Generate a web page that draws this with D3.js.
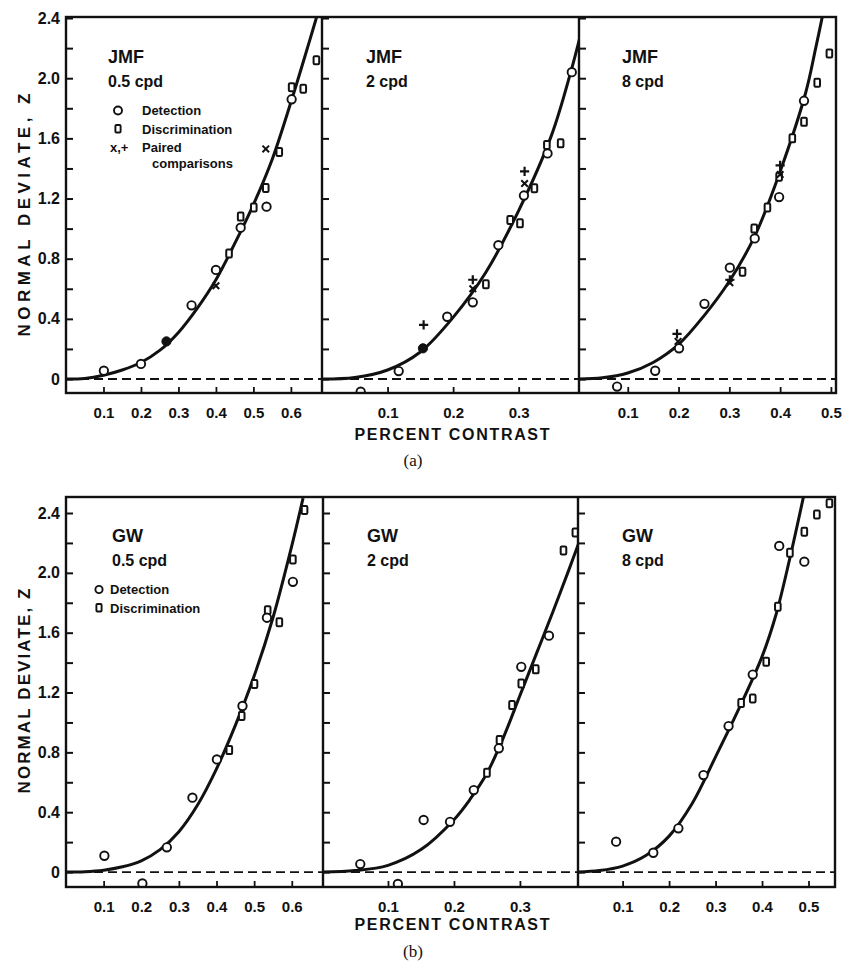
<!DOCTYPE html>
<html>
<head>
<meta charset="utf-8">
<script src="https://cdn.jsdelivr.net/npm/d3@7"></script>
<style>
  body { margin: 0; background: #fff; }
  text { font-family: "Liberation Sans", Arial, sans-serif; font-weight: bold; fill: #111; }
  .caption { font-family: "Liberation Serif", "Times New Roman", serif; font-weight: normal; }
</style>
</head>
<body>
<svg id="fig" width="846" height="968"></svg>
<script>
// ---- data: [contrast, z] ----
// (a) JMF 0.5 cpd
var a1Detection = [[0.101, 0.055], [0.20, 0.10], [0.335, 0.49], [0.40, 0.725], [0.466, 1.006], [0.535, 1.146], [0.602, 1.86]];
var a1Filled = [[0.268, 0.25]];
var a1Discrimination = [[0.435, 0.835], [0.466, 1.08], [0.501, 1.14], [0.533, 1.27], [0.569, 1.51], [0.602, 1.94], [0.633, 1.93], [0.668, 2.12]];
var a1Cross = [[0.40, 0.62], [0.533, 1.53]];
var a1Plus = [];
var a1Curve = [[0, 0], [0.05, 0.004], [0.1, 0.025], [0.15, 0.06], [0.2, 0.11], [0.25, 0.19], [0.3, 0.31], [0.35, 0.47], [0.4, 0.66], [0.45, 0.9], [0.5, 1.16], [0.55, 1.46], [0.6, 1.84], [0.65, 2.25], [0.675, 2.46]];

// (a) JMF 2 cpd
var a2Detection = [[0.059, -0.084], [0.117, 0.053], [0.191, 0.414], [0.230, 0.51], [0.269, 0.89], [0.308, 1.22], [0.344, 1.50], [0.381, 2.04]];
var a2Filled = [[0.154, 0.204]];
var a2Discrimination = [[0.250, 0.63], [0.287, 1.057], [0.302, 1.035], [0.324, 1.268], [0.343, 1.556], [0.364, 1.567]];
var a2Cross = [[0.230, 0.60], [0.309, 1.30]];
var a2Plus = [[0.155, 0.36], [0.230, 0.66], [0.309, 1.38]];
var a2Curve = [[0, 0], [0.05, 0.01], [0.1, 0.06], [0.15, 0.18], [0.2, 0.41], [0.25, 0.71], [0.3, 1.12], [0.35, 1.62], [0.38, 2.05], [0.395, 2.3]];

// (a) JMF 8 cpd
var a3Detection = [[0.079, -0.05], [0.154, 0.055], [0.201, 0.204], [0.251, 0.50], [0.301, 0.74], [0.350, 0.935], [0.398, 1.21], [0.447, 1.85]];
var a3Filled = [];
var a3Discrimination = [[0.326, 0.713], [0.349, 1.00], [0.375, 1.14], [0.398, 1.345], [0.424, 1.60], [0.447, 1.71], [0.473, 1.97], [0.497, 2.165]];
var a3Cross = [[0.199, 0.25], [0.301, 0.64], [0.40, 1.36]];
var a3Plus = [[0.197, 0.30], [0.301, 0.66], [0.40, 1.42]];
var a3Curve = [[0, 0], [0.05, 0.008], [0.1, 0.04], [0.15, 0.11], [0.2, 0.23], [0.25, 0.42], [0.3, 0.65], [0.35, 0.95], [0.4, 1.38], [0.45, 1.9], [0.47, 2.2], [0.485, 2.44]];

// (b) GW 0.5 cpd
var b1Detection = [[0.102, 0.109], [0.203, -0.076], [0.268, 0.165], [0.336, 0.497], [0.401, 0.753], [0.469, 1.11], [0.534, 1.70], [0.603, 1.94]];
var b1Discrimination = [[0.434, 0.815], [0.467, 1.043], [0.501, 1.257], [0.536, 1.75], [0.567, 1.67], [0.603, 2.09], [0.634, 2.42]];
var b1Curve = [[0, 0], [0.05, 0.002], [0.1, 0.012], [0.15, 0.035], [0.2, 0.075], [0.25, 0.15], [0.3, 0.27], [0.35, 0.45], [0.4, 0.69], [0.45, 0.98], [0.5, 1.31], [0.55, 1.7], [0.6, 2.18], [0.63, 2.5]];

// (b) GW 2 cpd
var b2Detection = [[0.058, 0.053], [0.115, -0.08], [0.154, 0.348], [0.194, 0.336], [0.23, 0.548], [0.268, 0.827], [0.302, 1.372], [0.344, 1.58]];
var b2Discrimination = [[0.25, 0.664], [0.269, 0.882], [0.288, 1.116], [0.302, 1.261], [0.324, 1.355], [0.366, 2.15], [0.384, 2.27]];
var b2Curve = [[0, 0], [0.05, 0.01], [0.1, 0.045], [0.15, 0.15], [0.2, 0.35], [0.225, 0.49], [0.25, 0.66], [0.275, 0.9], [0.3, 1.18], [0.325, 1.46], [0.35, 1.74], [0.375, 2.03], [0.39, 2.21]];

// (b) GW 8 cpd
var b3Detection = [[0.086, 0.203], [0.166, 0.129], [0.22, 0.292], [0.274, 0.648], [0.328, 0.976], [0.38, 1.32], [0.437, 2.18], [0.491, 2.075]];
var b3Discrimination = [[0.355, 1.13], [0.38, 1.16], [0.409, 1.406], [0.434, 1.773], [0.46, 2.134], [0.491, 2.275], [0.518, 2.39], [0.545, 2.465]];
var b3Curve = [[0, 0], [0.05, 0.01], [0.1, 0.04], [0.15, 0.11], [0.2, 0.24], [0.25, 0.46], [0.3, 0.77], [0.35, 1.09], [0.4, 1.44], [0.43, 1.72], [0.46, 2.1], [0.49, 2.52]];

// ticks
var yTicks = [0, 0.2, 0.4, 0.6, 0.8, 1.0, 1.2, 1.4, 1.6, 1.8, 2.0, 2.2, 2.4];
var yTickLabels = [0, 0.4, 0.8, 1.2, 1.6, 2.0, 2.4];
var xTicks05 = [0.1, 0.2, 0.3, 0.4, 0.5, 0.6];
var xTicks2 = [0.1, 0.2, 0.3];
var xTicks8 = [0.1, 0.2, 0.3, 0.4, 0.5];

var svg = d3.select("#fig");
svg.append("rect").attr("width", 846).attr("height", 968).attr("fill", "#fff");

var line = d3.line().curve(d3.curveCatmullRom.alpha(0.5));

function drawFigure(fig) {
  var g = svg.append("g");
  var y = d3.scaleLinear().domain(fig.yDomain).range([fig.bottom, fig.top]);

  fig.panels.forEach(function (p, i) {
    var x = d3.scaleLinear().domain(p.xDomain).range([p.left, p.right]);
    var pg = g.append("g");
    var clipId = "clip-" + fig.id + i;

    pg.append("clipPath").attr("id", clipId).append("rect")
      .attr("x", p.left).attr("y", fig.top)
      .attr("width", p.right - p.left).attr("height", fig.bottom - fig.top);

    // zero line
    pg.append("line")
      .attr("x1", p.left).attr("x2", p.right)
      .attr("y1", y(0)).attr("y2", y(0))
      .attr("stroke", "#111").attr("stroke-width", 1.8)
      .attr("stroke-dasharray", "9,5");

    // left ticks (inward)
    var yAxis = d3.axisLeft(y).tickValues(yTicks).tickSize(-7).tickFormat("");
    var ya = pg.append("g").attr("transform", "translate(" + p.left + ",0)").call(yAxis);
    ya.select(".domain").remove();
    ya.selectAll("line").attr("stroke", "#111").attr("stroke-width", 2);

    if (i === 0) {
      var yLab = d3.axisLeft(y).tickValues(yTickLabels).tickSize(0).tickPadding(6)
        .tickFormat(function (d) { return d === 0 ? "0" : d.toFixed(1); });
      var yl = pg.append("g").attr("transform", "translate(" + p.left + ",0)").call(yLab);
      yl.select(".domain").remove();
      yl.selectAll("text").attr("font-size", 16).attr("font-family", null).attr("fill", "#111");
    }

    // bottom ticks (inward)
    var xAxis = d3.axisBottom(x).tickValues(p.xTicks).tickSize(-6).tickPadding(14)
      .tickFormat(function (d) { return d.toFixed(1); });
    var xa = pg.append("g").attr("transform", "translate(0," + fig.bottom + ")").call(xAxis);
    xa.select(".domain").remove();
    xa.selectAll("line").attr("stroke", "#111").attr("stroke-width", 1.8);
    xa.selectAll("text").attr("font-size", 15).attr("font-family", null).attr("fill", "#111");

    // fitted curve
    pg.append("path")
      .attr("clip-path", "url(#" + clipId + ")")
      .attr("d", line(p.curve.map(function (d) { return [x(d[0]), y(d[1])]; })))
      .attr("fill", "none").attr("stroke", "#111").attr("stroke-width", 3);

    var mk = pg.append("g").attr("stroke", "#111").attr("clip-path", "url(#" + clipId + ")");

    mk.selectAll("rect.disc").data(p.disc).enter().append("rect")
      .attr("class", "disc")
      .attr("x", function (d) { return x(d[0]) - 2.8; })
      .attr("y", function (d) { return y(d[1]) - 4; })
      .attr("width", 5.6).attr("height", 8).attr("rx", 1.2)
      .attr("fill", "#fff").attr("stroke-width", 2);

    mk.selectAll("circle.det").data(p.det).enter().append("circle")
      .attr("class", "det")
      .attr("cx", function (d) { return x(d[0]); })
      .attr("cy", function (d) { return y(d[1]); })
      .attr("r", 4.2).attr("fill", "#fff").attr("stroke-width", 1.9);

    mk.selectAll("circle.fill").data(p.filled || []).enter().append("circle")
      .attr("class", "fill")
      .attr("cx", function (d) { return x(d[0]); })
      .attr("cy", function (d) { return y(d[1]); })
      .attr("r", 4.6).attr("fill", "#111").attr("stroke-width", 1);

    mk.selectAll("path.cross").data(p.cross || []).enter().append("path")
      .attr("class", "cross")
      .attr("d", function (d) {
        var cx = x(d[0]), cy = y(d[1]), s = 3.3;
        return "M" + (cx - s) + "," + (cy - s) + "L" + (cx + s) + "," + (cy + s) +
               "M" + (cx - s) + "," + (cy + s) + "L" + (cx + s) + "," + (cy - s);
      })
      .attr("fill", "none").attr("stroke-width", 2);

    mk.selectAll("path.plus").data(p.plus || []).enter().append("path")
      .attr("class", "plus")
      .attr("d", function (d) {
        var cx = x(d[0]), cy = y(d[1]), s = 4.6;
        return "M" + (cx - s) + "," + cy + "L" + (cx + s) + "," + cy +
               "M" + cx + "," + (cy - s) + "L" + cx + "," + (cy + s);
      })
      .attr("fill", "none").attr("stroke-width", 2.2);

    // panel titles
    pg.append("text").attr("x", p.titleX).attr("y", fig.titleY)
      .attr("font-size", 18).text(fig.subject);
    pg.append("text").attr("x", p.titleX).attr("y", fig.titleY + 24)
      .attr("font-size", 16).text(p.freq);
  });

  // frame
  g.append("rect")
    .attr("x", fig.panels[0].left).attr("y", fig.top)
    .attr("width", fig.panels[2].right - fig.panels[0].left)
    .attr("height", fig.bottom - fig.top)
    .attr("fill", "none").attr("stroke", "#111").attr("stroke-width", 2.4);
  [1, 2].forEach(function (i) {
    g.append("line")
      .attr("x1", fig.panels[i].left).attr("x2", fig.panels[i].left)
      .attr("y1", fig.top).attr("y2", fig.bottom)
      .attr("stroke", "#111").attr("stroke-width", 2.4);
  });

  // axis titles
  g.append("text")
    .attr("transform", "translate(30," + fig.yTitleY + ") rotate(-90)")
    .attr("text-anchor", "middle").attr("font-size", 17)
    .attr("textLength", fig.yTitleLen).attr("lengthAdjust", "spacing")
    .text("NORMAL DEVIATE, Z");
  g.append("text")
    .attr("x", 452).attr("y", fig.xTitleY)
    .attr("text-anchor", "middle").attr("font-size", 16)
    .attr("textLength", 195).attr("lengthAdjust", "spacing")
    .text("PERCENT CONTRAST");
  g.append("text").attr("class", "caption")
    .attr("x", 413).attr("y", fig.captionY)
    .attr("text-anchor", "middle").attr("font-size", 17)
    .text(fig.caption);

  return { g: g, y: y };
}

drawFigure({
  id: "a", subject: "JMF", caption: "(a)",
  top: 17, bottom: 393, yDomain: [-0.093, 2.407],
  titleY: 63, yTitleY: 215, yTitleLen: 243, xTitleY: 440, captionY: 466,
  panels: [
    { left: 66, right: 322, xDomain: [0, 0.683], xTicks: xTicks05, freq: "0.5 cpd", titleX: 108,
      det: a1Detection, disc: a1Discrimination, filled: a1Filled, cross: a1Cross, plus: a1Plus, curve: a1Curve },
    { left: 322, right: 579, xDomain: [0, 0.392], xTicks: xTicks2, freq: "2 cpd", titleX: 366,
      det: a2Detection, disc: a2Discrimination, filled: a2Filled, cross: a2Cross, plus: a2Plus, curve: a2Curve },
    { left: 579, right: 836, xDomain: [0.004, 0.51], xTicks: xTicks8, freq: "8 cpd", titleX: 622,
      det: a3Detection, disc: a3Discrimination, filled: a3Filled, cross: a3Cross, plus: a3Plus, curve: a3Curve }
  ]
});

drawFigure({
  id: "b", subject: "GW", caption: "(b)",
  top: 497, bottom: 887, yDomain: [-0.1, 2.507],
  titleY: 542, yTitleY: 691, yTitleLen: 205, xTitleY: 930, captionY: 957,
  panels: [
    { left: 66, right: 323, xDomain: [0, 0.683], xTicks: xTicks05, freq: "0.5 cpd", titleX: 112,
      det: b1Detection, disc: b1Discrimination, curve: b1Curve },
    { left: 323, right: 578, xDomain: [0.0015, 0.388], xTicks: xTicks2, freq: "2 cpd", titleX: 367,
      det: b2Detection, disc: b2Discrimination, curve: b2Curve },
    { left: 578, right: 835, xDomain: [0.004, 0.557], xTicks: xTicks8, freq: "8 cpd", titleX: 622,
      det: b3Detection, disc: b3Discrimination, curve: b3Curve }
  ]
});

// legends
function legend(items, opts) {
  var lg = svg.append("g").attr("stroke", "#111");
  items.forEach(function (it, i) {
    var yy = opts.y + i * opts.step;
    if (it.kind === "circle") {
      lg.append("circle").attr("cx", opts.mx).attr("cy", yy - 4.5).attr("r", opts.r)
        .attr("fill", "#fff").attr("stroke-width", 1.9);
    } else if (it.kind === "square") {
      lg.append("rect").attr("x", opts.mx - 2.6).attr("y", yy - 8.5).attr("width", 5.2).attr("height", 7.5)
        .attr("rx", 1).attr("fill", "#fff").attr("stroke-width", 1.9);
    } else {
      lg.append("text").attr("x", opts.mx - 8).attr("y", yy).attr("stroke", "none")
        .attr("font-size", 13).text("x,+");
    }
    lg.append("text").attr("x", opts.tx).attr("y", yy).attr("stroke", "none")
      .attr("font-size", 13).text(it.label);
  });
}

legend([{ kind: "circle", label: "Detection" }, { kind: "square", label: "Discrimination" },
        { kind: "text", label: "Paired" }], { mx: 118, tx: 142, y: 115, step: 18.5, r: 4 });
svg.append("text").attr("x", 152).attr("y", 168).attr("font-size", 13).text("comparisons");

legend([{ kind: "circle", label: "Detection" }, { kind: "square", label: "Discrimination" }],
       { mx: 99, tx: 110, y: 594, step: 18.5, r: 3.6 });
</script>
</body>
</html>
